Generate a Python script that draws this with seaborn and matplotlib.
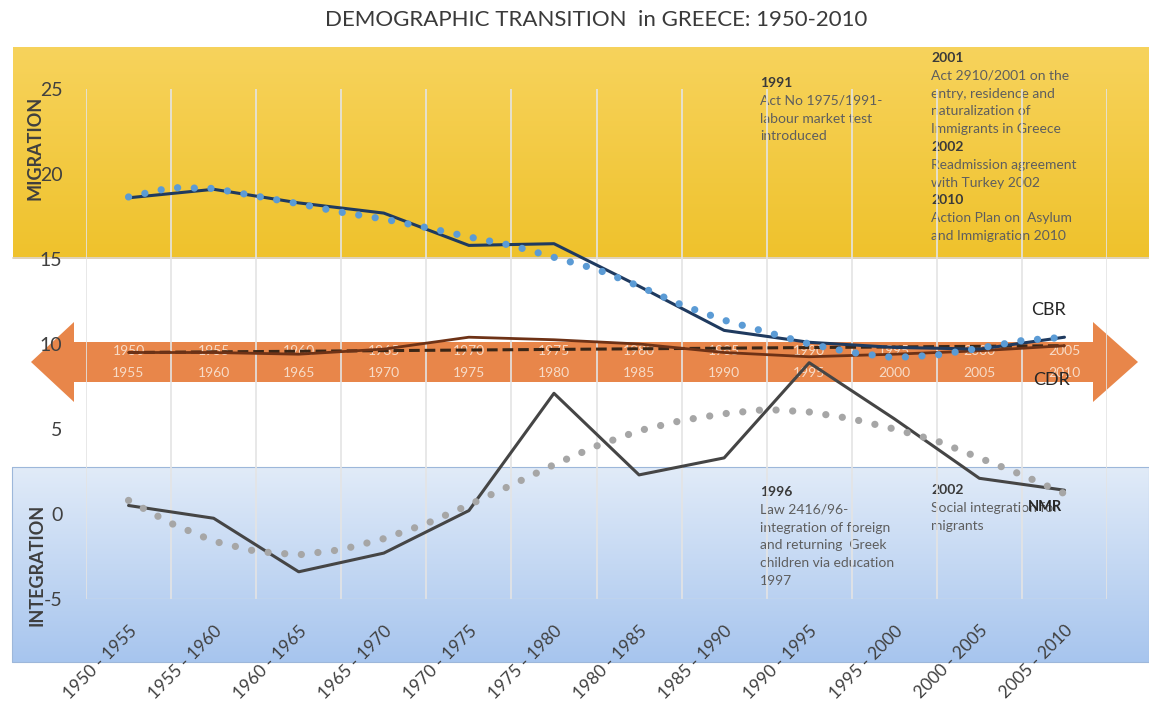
import numpy as np
import matplotlib
matplotlib.use("Agg")
import matplotlib.pyplot as plt
import matplotlib.colors as mcolors
from matplotlib.patches import Polygon
import seaborn as sns

# periods on the category axis
periods = ["1950 - 1955", "1955 - 1960", "1960 - 1965", "1965 - 1970",
           "1970 - 1975", "1975 - 1980", "1980 - 1985", "1985 - 1990",
           "1990 - 1995", "1995 - 2000", "2000 - 2005", "2005 - 2010"]
start_years = ["1950", "1955", "1960", "1965", "1970", "1975",
               "1980", "1985", "1990", "1995", "2000", "2005"]
end_years = ["1955", "1960", "1965", "1970", "1975", "1980",
             "1985", "1990", "1995", "2000", "2005", "2010"]

# rates per 1000
cbr = [18.6, 19.1, 18.3, 17.7, 15.8, 15.9, 13.4, 10.8, 10.1, 9.8, 9.7, 10.4]
cdr = [9.5, 9.5, 9.4, 9.7, 10.4, 10.25, 10.0, 9.5, 9.25, 9.4, 9.6, 9.9]
nmr = [0.5, -0.25, -3.4, -2.3, 0.2, 7.1, 2.3, 3.3, 8.9, 5.6, 2.1, 1.4]

# trend lines, read at every half period
trend_steps = [0, 0.5, 1, 1.5, 2, 2.5, 3, 3.5, 4, 4.5, 5, 5.5,
               6, 6.5, 7, 7.5, 8, 8.5, 9, 9.5, 10, 10.5, 11]
cbr_trend = [18.65, 19.2, 19.15, 18.7, 18.25, 17.75, 17.35, 16.85, 16.3, 15.8,
             15.1, 14.4, 13.4, 12.3, 11.4, 10.7, 10.0, 9.5, 9.2, 9.35, 9.75,
             10.2, 10.4]
nmr_trend = [0.8, -0.55, -1.6, -2.2, -2.4, -2.1, -1.45, -0.57, 0.53, 1.7, 2.9,
             4.0, 4.9, 5.5, 5.9, 6.15, 6.0, 5.6, 5.0, 4.3, 3.3, 2.3, 1.2]
cdr_trend = [9.5, 9.9]   # straight dashed line, first and last period

sns.set_theme(style="white")
plt.rcParams["font.family"] = ["Lato", "DejaVu Sans"]

W, H = 1149, 715
fig = plt.figure(figsize=(W / 100, H / 100), dpi=100)

# background layer in pixel coordinates
bg = fig.add_axes([0, 0, 1, 1], zorder=0)


def band(x0, x1, y0, y1, top, bottom):
    c0, c1 = np.array(mcolors.to_rgb(top)), np.array(mcolors.to_rgb(bottom))
    g = np.linspace(0, 1, 256)[:, None, None]
    img = c0 * (1 - g) + c1 * g
    bg.imshow(img, extent=(x0, x1, y1, y0), aspect="auto", interpolation="bilinear")


band(13, W, 47, 257, "#F7D35C", "#EFC22C")
bg.plot([13, W], [257.5, 257.5], color="#C9B48A", lw=1.2, alpha=0.7)
band(12, W, 467, 662, "#E1EBF8", "#A7C5EE")
bg.plot([12, W, W, 12, 12], [467, 467, 662, 662, 467], color="#9DB7DA", lw=0.8)

# double headed orange arrow
arrow = Polygon([(31, 362), (74, 322), (74, 342), (1093, 342), (1093, 322),
                 (1138, 362), (1093, 402), (1093, 382), (74, 382), (74, 402)],
                closed=True, facecolor="#E8864A", edgecolor="none")
bg.add_patch(arrow)

bg.text(W / 2 + 22, 20, "DEMOGRAPHIC TRANSITION  in GREECE: 1950-2010",
        ha="center", va="center", fontsize=16, color="#3A3A3A")
bg.text(35, 148, "MIGRATION", rotation=90, ha="center", va="center",
        fontsize=13, fontweight="bold", color="#3F3F3F")
bg.text(37, 565, "INTEGRATION", rotation=90, ha="center", va="center",
        fontsize=13, fontweight="bold", color="#3F3F3F")


def note(x, y, lines, step=17.8):
    for k, (txt, bold) in enumerate(lines):
        bg.text(x, y + k * step, txt, ha="left", va="center", fontsize=10,
                fontweight="bold" if bold else "normal",
                color="#3A3A3A" if bold else "#5E5E5E")


note(760, 83, [("1991", True), ("Act No 1975/1991-", False),
               ("labour market test", False), ("introduced", False)])
note(931, 58, [("2001", True), ("Act 2910/2001 on the", False),
               ("entry, residence and", False), ("naturalization of", False),
               ("Immigrants in Greece", False), ("2002", True),
               ("Readmission agreement", False), ("with Turkey 2002", False),
               ("2010", True), ("Action Plan on  Asylum", False),
               ("and Immigration 2010", False)])
note(760, 492, [("1996", True), ("Law 2416/96-", False),
                ("integration of foreign", False), ("and returning  Greek", False),
                ("children via education", False), ("1997", False)])
note(931, 490, [("2002", True), ("Social integration for", False),
                ("migrants", False)])

bg.set_xlim(0, W)
bg.set_ylim(H, 0)
bg.axis("off")

# main chart
ax = fig.add_axes([86 / W, (H - 599) / H, (1107 - 86) / W, (599 - 89) / H], zorder=1)
ax.set_facecolor("none")
pos = np.arange(len(periods))

ax.vlines(np.arange(-0.5, len(periods), 1), -5, 25, color="#E4E4E4", lw=1.2, zorder=1)
ax.hlines(-5, -0.5, len(periods) - 0.5, color="#DCDCDC", lw=1, zorder=1)

for i in pos:
    ax.text(i, 9.6, start_years[i], ha="center", va="center", fontsize=10,
            color="#F7DCC8", zorder=2)
    ax.text(i, 8.3, end_years[i], ha="center", va="center", fontsize=10,
            color="#F7DCC8", zorder=2)

dots = (0, (0.01, 2.3))
sns.lineplot(x=[pos[0], pos[-1]], y=cdr_trend, ax=ax, color="#3B2616", lw=2.2,
             linestyle=(0, (3.5, 1.6)), zorder=3)
sns.lineplot(x=pos, y=cdr, ax=ax, color="#6E3216", lw=2, zorder=3)
sns.lineplot(x=pos, y=nmr, ax=ax, color="#454545", lw=2.2, zorder=3)
sns.lineplot(x=trend_steps, y=nmr_trend, ax=ax, color="#A6A6A6", lw=5.2,
             linestyle=dots, dash_capstyle="round", zorder=4)
sns.lineplot(x=pos, y=cbr, ax=ax, color="#1F3A5F", lw=2.2, zorder=3)
sns.lineplot(x=trend_steps, y=cbr_trend, ax=ax, color="#5B9BD5", lw=5.2,
             linestyle=dots, dash_capstyle="round", zorder=4)

ax.text(10.81, 12.0, "CBR", ha="center", va="center", fontsize=13, color="#262626")
ax.text(10.85, 7.9, "CDR", ha="center", va="center", fontsize=13, color="#262626")
ax.text(10.77, 0.4, "NMR", ha="center", va="center", fontsize=10.5,
        fontweight="bold", color="#262626")

ax.set_xlim(-0.5, len(periods) - 0.5)
ax.set_ylim(-5, 25)
ax.set_yticks([25, 20, 15, 10, 5, 0, -5])
ax.set_yticklabels(["25", "20", "15", "10", "5", "0", "-5"])
ax.set_xticks(pos)
ax.set_xticklabels(periods, rotation=45, ha="right", va="top", rotation_mode="anchor")
ax.tick_params(axis="y", length=0, pad=17, labelsize=14, labelcolor="#404040")
ax.tick_params(axis="x", length=0, pad=17, labelsize=12.5, labelcolor="#404040")
ax.set_xlabel("")
ax.set_ylabel("")
for s in ax.spines.values():
    s.set_visible(False)

fig.savefig("out.png", dpi=100)
